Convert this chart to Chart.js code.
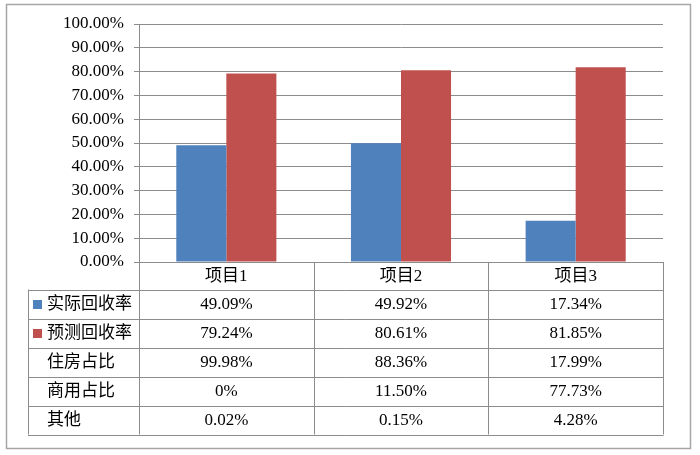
<!DOCTYPE html>
<html>
<head>
<meta charset="utf-8">
<script src="https://cdn.jsdelivr.net/npm/chart.js@4/dist/chart.umd.min.js"></script>
<style>
  html, body { margin: 0; padding: 0; background: #fff; }
  canvas { display: block; }
</style>
</head>
<body>
<canvas id="chart" width="700" height="455"></canvas>
<script>
const categories = ['项目1', '项目2', '项目3'];
const actualRate = [49.09, 49.92, 17.34];
const forecastRate = [79.24, 80.61, 81.85];
const housingShare = [99.98, 88.36, 17.99];
const commercialShare = [0, 11.50, 77.73];
const otherShare = [0.02, 0.15, 4.28];

const seriesNames = ['实际回收率', '预测回收率', '住房占比', '商用占比', '其他'];
const blue = '#4F81BD';
const red = '#C0504D';
const lineColor = '#8c8c8c';
const fontFamily = '"Liberation Serif", "Noto Sans CJK SC", serif';

const pct = (v) => (v === 0 ? '0%' : v.toFixed(2) + '%');

// rows of the data table under the plot
const tableRows = [
  { name: seriesNames[0], values: actualRate, swatch: blue },
  { name: seriesNames[1], values: forecastRate, swatch: red },
  { name: seriesNames[2], values: housingShare },
  { name: seriesNames[3], values: commercialShare },
  { name: seriesNames[4], values: otherShare }
];

const frame = {
  id: 'frame',
  beforeDraw(chart) {
    const { ctx } = chart;
    ctx.save();
    ctx.fillStyle = '#fff';
    ctx.fillRect(0, 0, chart.width, chart.height);
    ctx.strokeStyle = '#a6a6a6';
    ctx.lineWidth = 1.5;
    ctx.strokeRect(6.5, 4.5, 684, 444);
    ctx.restore();
  }
};

const dataTable = {
  id: 'dataTable',
  afterDraw(chart) {
    const { ctx } = chart;
    const x = chart.scales.x;
    const area = chart.chartArea;
    const colW = (x.right - x.left) / categories.length;
    const headTop = area.bottom;
    const headH = 27.5;
    const rowH = 29;
    const labelLeft = 28;
    const bottom = headTop + headH + rowH * tableRows.length;

    ctx.save();
    ctx.strokeStyle = lineColor;
    ctx.lineWidth = 1;

    // vertical lines
    categories.forEach((c, i) => {
      const lx = Math.round(x.getPixelForValue(i) - colW / 2) + 0.5;
      ctx.beginPath();
      ctx.moveTo(lx, headTop);
      ctx.lineTo(lx, bottom);
      ctx.stroke();
    });
    const rx = Math.round(x.right) + 0.5;
    ctx.beginPath();
    ctx.moveTo(rx, headTop);
    ctx.lineTo(rx, bottom);
    ctx.moveTo(labelLeft + 0.5, headTop + headH);
    ctx.lineTo(labelLeft + 0.5, bottom);
    ctx.stroke();

    // horizontal lines
    for (let r = 0; r <= tableRows.length; r++) {
      const ly = Math.round(headTop + headH + r * rowH) + 0.5;
      ctx.beginPath();
      ctx.moveTo(labelLeft, ly);
      ctx.lineTo(rx, ly);
      ctx.stroke();
    }

    ctx.fillStyle = '#000';
    ctx.font = '17px ' + fontFamily;
    ctx.textBaseline = 'middle';
    ctx.textAlign = 'center';
    categories.forEach((c, i) => {
      ctx.fillText(c, x.getPixelForValue(i), headTop + headH / 2 + 1);
    });

    tableRows.forEach((row, r) => {
      const cy = headTop + headH + r * rowH + rowH / 2 + 1;
      ctx.textAlign = 'left';
      if (row.swatch) {
        ctx.fillStyle = row.swatch;
        ctx.fillRect(33, cy - 5, 9, 9);
      }
      ctx.fillStyle = '#000';
      ctx.fillText(row.name, 47, cy);
      ctx.textAlign = 'center';
      row.values.forEach((v, i) => {
        ctx.fillText(pct(v), x.getPixelForValue(i), cy);
      });
    });
    ctx.restore();
  }
};

new Chart(document.getElementById('chart'), {
  type: 'bar',
  data: {
    labels: categories,
    datasets: [
      { label: seriesNames[0], data: actualRate, backgroundColor: blue },
      { label: seriesNames[1], data: forecastRate, backgroundColor: red }
    ]
  },
  options: {
    responsive: false,
    animation: false,
    devicePixelRatio: 1,
    layout: { padding: { left: 6, top: 24, right: 37, bottom: 193 } },
    datasets: { bar: { barPercentage: 1, categoryPercentage: 0.573 } },
    plugins: { legend: { display: false }, tooltip: { enabled: false } },
    scales: {
      x: { display: false },
      y: {
        min: 0,
        max: 100,
        afterFit: (scale) => { scale.width = 133; },
        ticks: {
          stepSize: 10,
          padding: 10,
          color: '#000',
          font: { family: fontFamily, size: 17 },
          callback: (v) => v.toFixed(2) + '%'
        },
        grid: { color: lineColor, tickLength: 5, lineWidth: 1 },
        border: { color: lineColor }
      }
    }
  },
  plugins: [frame, dataTable]
});
</script>
</body>
</html>
